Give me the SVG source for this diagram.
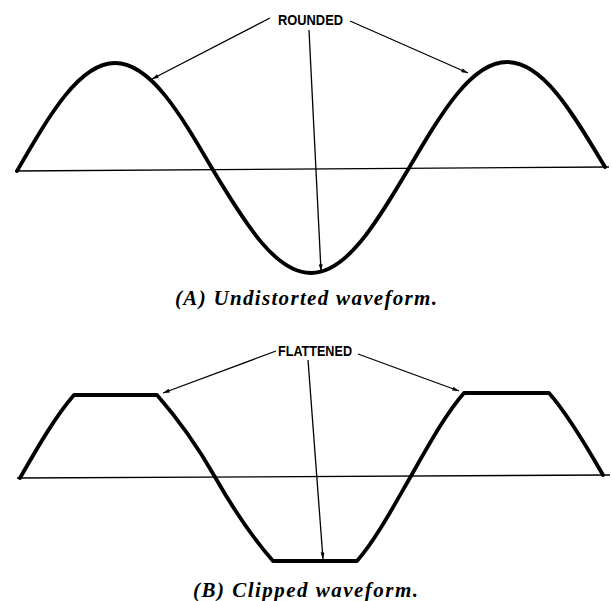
<svg xmlns="http://www.w3.org/2000/svg" width="612" height="601" viewBox="0 0 612 601">
<style>
.wave{fill:none;stroke:#000;stroke-width:3.8;stroke-linejoin:round;stroke-linecap:round}
.axis{fill:none;stroke:#000;stroke-width:1.3}
.lead{fill:none;stroke:#000;stroke-width:1.3;marker-end:url(#ah)}
.lbl{font-family:"Liberation Sans",Arial,sans-serif;font-weight:bold;font-size:14px;fill:#000}
.cap{font-family:"Liberation Serif","Times New Roman",serif;font-weight:bold;font-style:italic;font-size:21px;fill:#000}
</style>
<defs>
<marker id="ah" viewBox="0 0 10 6" refX="10" refY="3" markerWidth="9" markerHeight="4" markerUnits="userSpaceOnUse" orient="auto">
<path d="M0,0 L10,3 L0,6 z" fill="#000"/>
</marker>
</defs>
<rect width="612" height="601" fill="#fff"/>
<g id="panelA">
<line class="axis" x1="15" y1="171" x2="609" y2="167"/>
<path id="sineA" class="wave" d="M17,171 C49.8,114.3 79.4,63 115,63 C150.6,63 180.2,113.8 213,170 C245.8,224.1 275.4,273 311,273 C346.6,273 376.2,223.1 409,168 C441.8,112.3 471.4,62 507,62 C542.6,62 572.2,111.9 605,167"/>
</g>
<g id="panelB">
<line class="axis" x1="17" y1="478" x2="610" y2="475"/>
<path id="clippedB" class="wave" d="M20,478 C38,446.6 56,415.4 74,395 L157,395 C176.3,416.9 195.7,443.2 215,477 C234.3,510.8 253.7,539.1 273,561 L357,561 C375,540.6 393,507.4 411,476 C428.7,445 446.3,413 464,393 L549,393 C567,413.4 585,443.6 603,475"/>
</g>
<g id="label-rounded">
<text class="lbl" x="278" y="25" textLength="65" lengthAdjust="spacingAndGlyphs">ROUNDED</text>
</g>
<g id="label-flattened">
<text class="lbl" x="278" y="356" textLength="74" lengthAdjust="spacingAndGlyphs">FLATTENED</text>
</g>
<g id="connectors">
<line class="lead" x1="270" y1="18" x2="152" y2="79"/>
<line class="lead" x1="350" y1="21" x2="468" y2="73"/>
<line class="lead" x1="309" y1="30" x2="321" y2="271"/>
<line class="lead" x1="276" y1="351" x2="163" y2="393"/>
<line class="lead" x1="358" y1="354" x2="459" y2="391"/>
<line class="lead" x1="308" y1="360" x2="323" y2="559"/>
</g>
<g id="caption-a">
<text class="cap" x="175" y="305" textLength="262" lengthAdjust="spacing">(A) Undistorted waveform.</text>
</g>
<g id="caption-b">
<text class="cap" x="193" y="597" textLength="225" lengthAdjust="spacing">(B) Clipped waveform.</text>
</g>
</svg>
